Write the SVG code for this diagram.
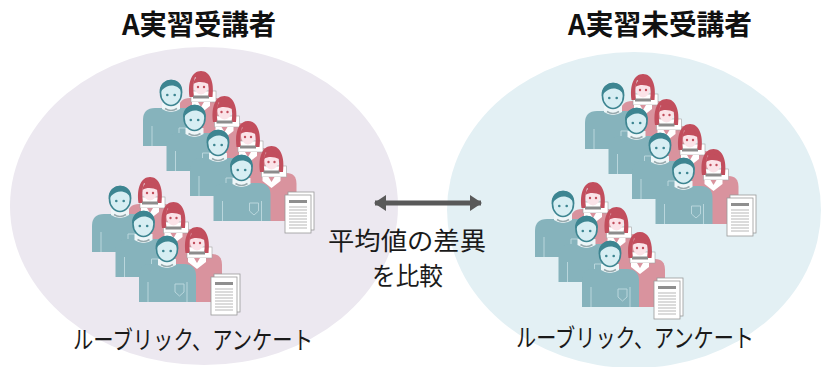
<svg xmlns="http://www.w3.org/2000/svg" xmlns:xlink="http://www.w3.org/1999/xlink" width="823" height="367" viewBox="0 0 823 367">
  <style>
    .title { font-family: "Noto Sans CJK JP", "Noto Sans", sans-serif; font-weight: 700; font-size: 28px; fill: #111; }
    .label { font-family: "Noto Sans CJK JP", "Noto Sans", sans-serif; font-weight: 400; font-size: 25px; fill: #1a1a1a; }
    .m-body { fill: #86b3bc; }
    .m-line { fill: none; stroke: #b9d6dc; stroke-width: 1; }
    .m-face { fill: #d7eef3; stroke: #3d8591; stroke-width: 1.6; }
    .m-dark { fill: #3d8591; }
    .f-body { fill: #d9939e; }
    .f-hair { fill: #c24e5d; }
    .f-face { fill: #fbe3e8; }
    .paper { fill: #ffffff; stroke: #9a9a9a; stroke-width: 0.8; }
    .rule { stroke: #b8b8b8; stroke-width: 1.2; }
  </style>
  <defs>
    <!-- one pair: man in front, woman behind to the right; origin = man's head centre -->
    <g id="pair">
      <!-- woman -->
      <path class="f-body" d="M8,53 L8,16 Q8,5 19,5 L45,5 Q55,5 55,16 L55,53 Z"/>
      <rect x="20" y="-2" width="25" height="11" fill="#fff" stroke="#a0a0a0" stroke-width="0.6"/>
      <path d="M21,9 L39,9 L39,13 L30,20 L21,13 Z" fill="#fff"/>
      <path d="M27,9 L33,9 L30,14 Z" fill="#d9939e"/>
      <path class="f-hair" d="M18.5,4 C16.5,-11 21,-22 30,-22 C39,-22 43.5,-11 41.5,4 L37,4 C38,-2 38,-8 36,-12 C32,-11 27,-13 24,-16 C22,-10 22,-3 23,4 Z"/>
      <ellipse class="f-face" cx="30" cy="-7" rx="7" ry="8.5"/>
      <path class="f-hair" d="M22.5,-9 C23,-16 28,-18 32,-16 C35,-15 37,-13 37.5,-9 C33,-11 27,-12 22.5,-9 Z"/>
      <circle cx="27" cy="-6" r="1.2" fill="#c24e5d"/>
      <circle cx="33" cy="-6" r="1.2" fill="#c24e5d"/>
      <rect x="22" y="2.5" width="16" height="3" fill="#8c8c8c"/>
      <!-- man -->
      <path class="m-body" d="M-28,53 L-28,27 Q-28,15 -16,15 L17,15 Q29,15 29,27 L29,53 Z"/>
      <line class="m-line" x1="-19" y1="33" x2="-19" y2="53"/>
      <line class="m-line" x1="20" y1="33" x2="20" y2="53"/>
      <path class="m-line" d="M8,35 L17,35 L17,43 L12.5,47 L8,43 Z"/>
      <path d="M-9,10 L9,10 L9,16 Q0,22 -9,16 Z" fill="#eef6f8"/>
      <path d="M-6,15.5 Q0,19.5 6,15.5" fill="none" stroke="#97a9ad" stroke-width="1.6"/>
      <ellipse class="m-face" cx="0" cy="0" rx="10.5" ry="12.5"/>
      <path class="m-dark" d="M-11.3,0 C-13,-17 13,-18 11.3,0 C8.5,-7 1,-9 -4,-6.5 C-7,-5 -9.5,-3 -11.3,0 Z"/>
      <circle cx="-3.7" cy="2" r="1.3" fill="#3d8591"/>
      <circle cx="3.7" cy="2" r="1.3" fill="#3d8591"/>
    </g>
    <!-- two stacked question sheets -->
    <g id="doc">
      <rect class="paper" x="3" y="-3" width="26" height="38"/>
      <rect class="paper" x="0" y="0" width="26" height="38"/>
      <rect x="4" y="5" width="18" height="3" fill="#8f8f8f"/>
      <path class="rule" d="M4,12H22M4,15H22M4,18H22M4,21H22M4,24H22M4,27H22M4,30H22M4,33H22"/>
    </g>
    <marker id="head" viewBox="0 0 12 16" refX="11" refY="8" markerWidth="12" markerHeight="16" markerUnits="userSpaceOnUse" orient="auto-start-reverse">
      <path d="M0,0 L12,8 L0,16 Z" fill="#595959"/>
    </marker>
  </defs>

  <rect width="823" height="367" fill="#ffffff"/>

  <g id="group-attended">
    <ellipse cx="204" cy="206" rx="194" ry="159" fill="#ece8f0"/>
    <text class="title" x="199" y="35" text-anchor="middle" textLength="154" lengthAdjust="spacingAndGlyphs">A実習受講者</text>
    <g id="attended-upper">
      <use xlink:href="#pair" transform="translate(171,93)"/>
      <use xlink:href="#pair" transform="translate(194.5,118)"/>
      <use xlink:href="#pair" transform="translate(218,143)"/>
      <use xlink:href="#pair" transform="translate(241.5,168)"/>
      <use xlink:href="#doc" transform="translate(285,195)"/>
    </g>
    <g id="attended-lower">
      <use xlink:href="#pair" transform="translate(120,199)"/>
      <use xlink:href="#pair" transform="translate(143.5,224)"/>
      <use xlink:href="#pair" transform="translate(167,249)"/>
      <use xlink:href="#doc" transform="translate(211,277)"/>
    </g>
    <text class="label" x="193" y="349" text-anchor="middle" textLength="240" lengthAdjust="spacingAndGlyphs">ルーブリック、アンケート</text>
  </g>

  <g id="group-not-attended">
    <ellipse cx="634" cy="210" rx="187" ry="158" fill="#e3f0f4"/>
    <text class="title" x="660" y="35" text-anchor="middle" textLength="184" lengthAdjust="spacingAndGlyphs">A実習未受講者</text>
    <g id="not-attended-upper">
      <use xlink:href="#pair" transform="translate(613,96)"/>
      <use xlink:href="#pair" transform="translate(636.5,121)"/>
      <use xlink:href="#pair" transform="translate(660,146)"/>
      <use xlink:href="#pair" transform="translate(683.5,171)"/>
      <use xlink:href="#doc" transform="translate(727,198)"/>
    </g>
    <g id="not-attended-lower">
      <use xlink:href="#pair" transform="translate(563,204)"/>
      <use xlink:href="#pair" transform="translate(586.5,229)"/>
      <use xlink:href="#pair" transform="translate(610,254)"/>
      <use xlink:href="#doc" transform="translate(654,281)"/>
    </g>
    <text class="label" x="635" y="347" text-anchor="middle" textLength="238" lengthAdjust="spacingAndGlyphs">ルーブリック、アンケート</text>
  </g>

  <g id="connectors">
    <line x1="375" y1="203" x2="481" y2="203" stroke="#595959" stroke-width="5" marker-start="url(#head)" marker-end="url(#head)"/>
  </g>

  <g id="comparison-label">
    <text class="label" x="407" y="250" text-anchor="middle" font-size="26" textLength="158" lengthAdjust="spacingAndGlyphs">平均値の差異</text>
    <text class="label" x="407.5" y="285" text-anchor="middle" textLength="71" lengthAdjust="spacingAndGlyphs">を比較</text>
  </g>
</svg>
